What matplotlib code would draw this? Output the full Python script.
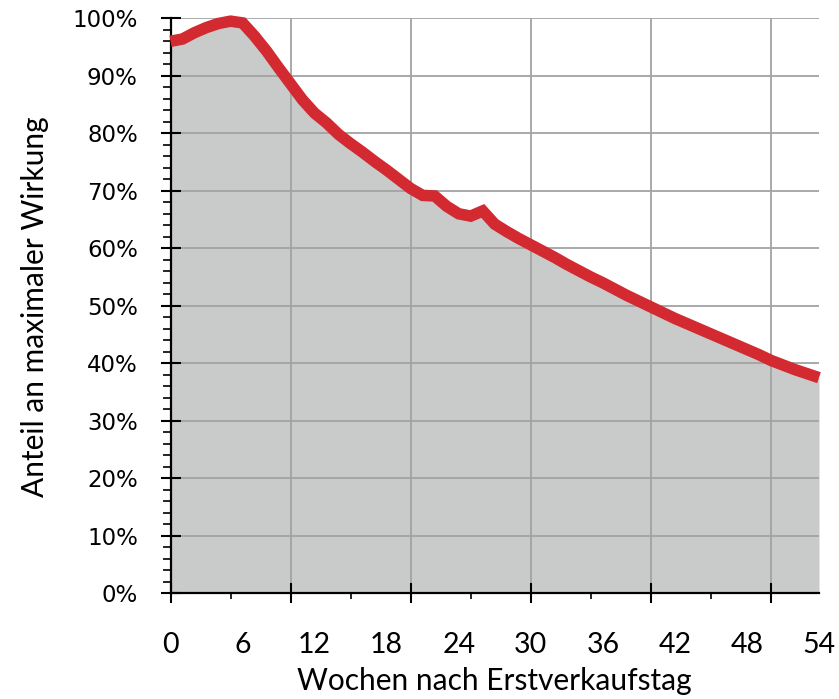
import matplotlib
matplotlib.use("Agg")
import matplotlib.pyplot as plt
from matplotlib.ticker import MultipleLocator, FuncFormatter

# Share of maximum effect per week after the first sales day
weeks = list(range(0, 55))
share = [
    96.0, 96.4, 97.5, 98.4, 99.1, 99.5, 99.2, 96.9, 94.3, 91.4,
    88.6, 85.8, 83.5, 81.8, 79.8, 78.2, 76.7, 75.1, 73.6, 72.0,
    70.4, 69.2, 69.1, 67.3, 66.0, 65.6, 66.5, 64.2, 62.9, 61.7,
    60.6, 59.5, 58.4, 57.2, 56.1, 55.0, 54.0, 52.9, 51.8, 50.8,
    49.8, 48.8, 47.8, 46.9, 46.0, 45.1, 44.2, 43.3, 42.4, 41.5,
    40.5, 39.7, 38.9, 38.2, 37.5,
]
week_labels = list(range(0, 55, 6))

LINE_RED = "#d22a30"
FILL_GREY = "#c9cbca"
GRID_GREY = "#a3a3a3"

fig = plt.figure(figsize=(8.39, 6.99), dpi=100)
ax = fig.add_axes([170.5 / 839, 1 - 593.3 / 699, (819 - 170.5) / 839, (593.3 - 18.3) / 699])

ax.fill_between(weeks, share, 0, color=FILL_GREY, lw=0, zorder=0)
ax.plot(weeks, share, color=LINE_RED, lw=8.3, solid_capstyle="butt",
        solid_joinstyle="miter", zorder=3, clip_on=False)

ax.set_xlim(0, 54)
ax.set_ylim(0, 100)

# grid
ax.set_axisbelow(True)
ax.xaxis.set_major_locator(MultipleLocator(10))
ax.xaxis.set_minor_locator(MultipleLocator(5))
ax.yaxis.set_major_locator(MultipleLocator(10))
ax.yaxis.set_minor_locator(MultipleLocator(2))
ax.grid(True, which="major", color=GRID_GREY, lw=1.3)

for side in ("top", "right"):
    ax.spines[side].set_visible(False)
for side in ("left", "bottom"):
    ax.spines[side].set_color("black")
    ax.spines[side].set_linewidth(1.6)
    ax.spines[side].set_zorder(2.5)

# y axis ticks and labels
ax.yaxis.set_major_formatter(FuncFormatter(lambda v, p: f"{int(round(v))}%"))
ax.tick_params(axis="y", which="major", direction="inout", length=15, width=1.5,
               pad=16, labelsize=16.5, labelcolor="black")
ax.tick_params(axis="y", which="minor", direction="out", length=5.5, width=1.2)
for t in ax.get_yticklabels():
    t.set_family("DejaVu Sans")

# x axis tick marks (unlabelled)
ax.tick_params(axis="x", which="major", direction="inout", length=15, width=1.5,
               labelbottom=False)
ax.tick_params(axis="x", which="minor", direction="out", length=4.5, width=1.2)

# week labels every six weeks
sec = ax.secondary_xaxis("bottom")
sec.set_xticks(week_labels)
sec.set_xticklabels([str(w) for w in week_labels])
sec.tick_params(axis="x", length=0, pad=28, labelsize=20.5)
sec.spines["bottom"].set_visible(False)
for t in sec.get_xticklabels():
    t.set_family("Lato")

fig.text(494 / 839, 1 - 681 / 699, "Wochen nach Erstverkaufstag",
         ha="center", va="center", fontsize=21.5, family="Lato")
fig.text(35 / 839, 1 - 307 / 699, "Anteil an maximaler Wirkung",
         ha="center", va="center", rotation=90, fontsize=21.5, family="Lato")

fig.savefig("out.png", dpi=100)
